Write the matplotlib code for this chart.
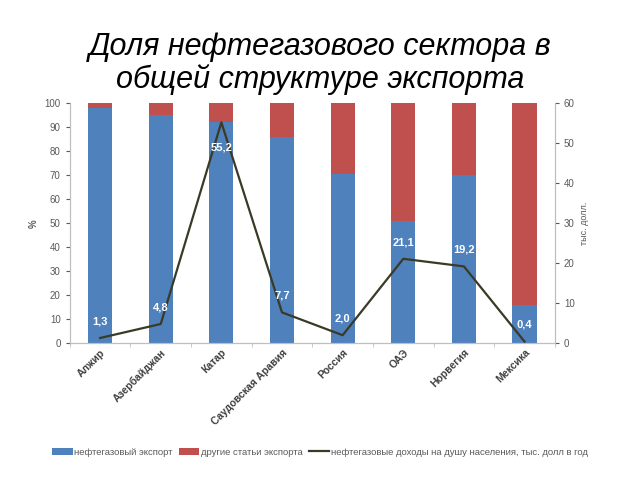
import matplotlib.pyplot as plt
import matplotlib.transforms as mtransforms
import numpy as np

plt.rcParams['font.family'] = ['Liberation Sans', 'DejaVu Sans']

countries = ["Алжир", "Азербайджан", "Катар", "Саудовская Аравия",
             "Россия", "ОАЭ", "Норвегия", "Мексика"]
oil_gas_share = [98, 95, 92, 86, 70.5, 51, 70, 16]
other_share = [100 - v for v in oil_gas_share]
income_per_capita = [1.3, 4.8, 55.2, 7.7, 2.0, 21.1, 19.2, 0.4]

blue = '#4F81BD'
red = '#C0504D'
line_col = '#3A3A26'
grey = '#595959'

fig = plt.figure(figsize=(6.4, 4.8), dpi=100)
ax = fig.add_axes([0.109, 0.285, 0.758, 0.5])
x = np.arange(len(countries))
width = 0.4

b1 = ax.bar(x, oil_gas_share, width, color=blue, label='нефтегазовый экспорт')
b2 = ax.bar(x, other_share, width, bottom=oil_gas_share, color=red,
            label='другие статьи экспорта')
ax.set_xlim(-0.5, len(countries) - 0.5)
ax.set_ylim(0, 100)
ax.set_yticks(range(0, 101, 10))
ax.set_ylabel('%', color=grey, fontsize=7, fontweight='bold')

ax.set_xticks(x)
ax.set_xticklabels(countries, rotation=45, ha='right', rotation_mode='anchor',
                   fontsize=7.5, fontweight='bold', color='#404040')
shift = mtransforms.ScaledTranslation(6 / 100, 0, fig.dpi_scale_trans)
for lbl in ax.get_xticklabels():
    lbl.set_transform(lbl.get_transform() + shift)
ax.set_xticks(np.arange(-0.5, len(countries), 1), minor=True)
ax.tick_params(axis='x', which='major', length=0, pad=3)
ax.tick_params(axis='x', which='minor', length=3, color='#BFBFBF')
ax.tick_params(axis='y', labelsize=7, colors=grey, length=3)
for t in ax.get_yticklines():
    t.set_color('#BFBFBF')

ax2 = ax.twinx()
ln, = ax2.plot(x, income_per_capita, color=line_col, linewidth=1.6,
               label='нефтегазовые доходы на душу населения, тыс. долл в год')
ax2.set_ylim(0, 60)
ax2.set_yticks(range(0, 61, 10))
ax2.tick_params(axis='y', labelsize=7, colors=grey, length=3)
for t in ax2.get_yticklines():
    t.set_color('#BFBFBF')
ax2.set_ylabel('тыс. долл.', color=grey, fontsize=6.5)

for a in (ax, ax2):
    a.spines['top'].set_visible(False)
    for s in ('left', 'right', 'bottom'):
        a.spines[s].set_color('#BFBFBF')

for i, v in enumerate(income_per_capita):
    txt = f"{v:.1f}".replace('.', ',')
    if v > 50:
        ax2.annotate(txt, (i, v), xytext=(0, -18), textcoords='offset points',
                     ha='center', va='center', color='white',
                     fontsize=8, fontweight='bold')
    else:
        ax2.annotate(txt, (i, v), xytext=(0, 12), textcoords='offset points',
                     ha='center', va='center', color='white',
                     fontsize=8, fontweight='bold')

fig.text(0.5, 0.868, 'Доля нефтегазового сектора в\nобщей структуре экспорта',
         ha='center', va='center', fontsize=22, style='italic', linespacing=1.1)

fig.legend(handles=[b1, b2, ln], loc='center', bbox_to_anchor=(0.5, 0.058),
           ncol=3, frameon=False, fontsize=6.8, handlelength=2.2,
           handletextpad=0.2, columnspacing=0.6, labelcolor=grey)

fig.savefig('out.png', dpi=100)
